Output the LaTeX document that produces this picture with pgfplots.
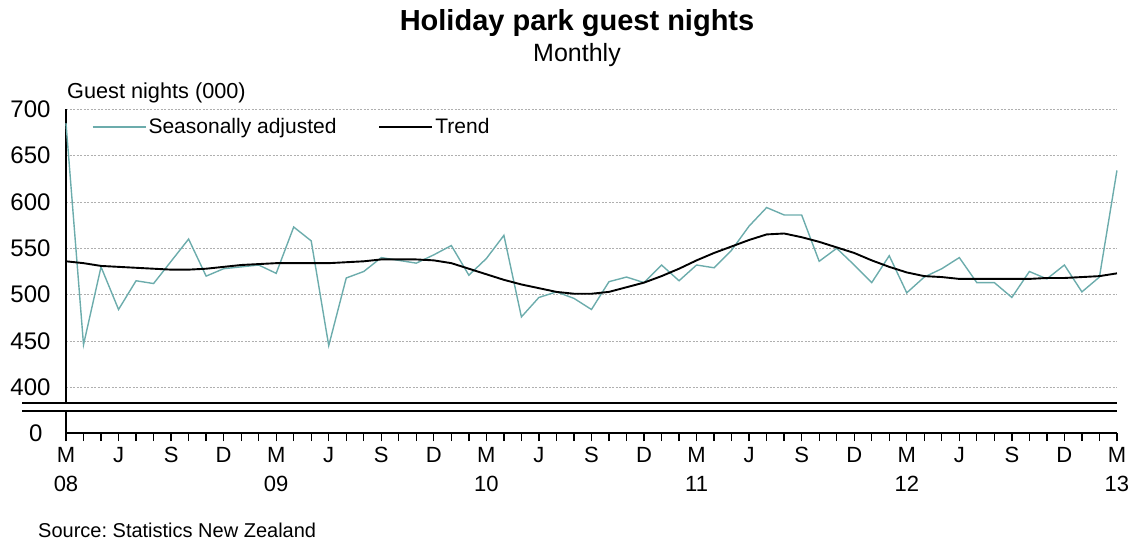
\documentclass[border=0pt]{standalone}
\usepackage{pgfplots}
\pgfplotsset{compat=1.18}
\usepackage{pgfplotstable}
\usepackage{fontspec}
\setmainfont{Liberation Sans}
\frenchspacing
\definecolor{sacol}{RGB}{108,172,172}
\definecolor{gridcol}{RGB}{175,175,175}

\pgfplotstableread{
m sa trend
0 685 536
1 446 534
2 530 531
3 484 530
4 515 529
5 512 528
6 536 527
7 560 527
8 520 528
9 528 530
10 530 532
11 532 533
12 523 534
13 573 534
14 558 534
15 445 534
16 518 535
17 525 536
18 540 538
19 537 538
20 534 538
21 543 537
22 553 534
23 521 528
24 539 522
25 564 516
26 476 511
27 497 507
28 503 503
29 496 501
30 484 501
31 514 503
32 519 508
33 513 513
34 532 520
35 515 528
36 532 537
37 529 545
38 548 552
39 574 559
40 594 565
41 586 566
42 586 562
43 536 557
44 550 551
45 532 545
46 513 537
47 542 530
48 502 524
49 519 520
50 528 519
51 540 517
52 513 517
53 513 517
54 497 517
55 525 517
56 517 518
57 532 518
58 503 519
59 519 520
60 634 523
}\datatable

\begin{document}
\begin{tikzpicture}
\useasboundingbox (0,0) rectangle (1135pt,-544pt);

% title
\node[font=\fontsize{29}{34}\selectfont\bfseries] at (577pt,-23pt) {Holiday park guest nights};
\node[font=\fontsize{25}{30}\selectfont] at (577pt,-55pt) {Monthly};
\node[font=\fontsize{21.7}{25}\selectfont, anchor=west, inner sep=0pt] at (67pt,-93pt) {Guest nights (000)};
\node[font=\fontsize{20}{24}\selectfont, anchor=west, inner sep=0pt] at (38pt,-530pt) {Source: Statistics New Zealand};

% upper axis
\begin{axis}[
  at={(66pt,-403pt)}, anchor=south west,
  scale only axis, width=1051pt, height=293.7pt,
  xmin=0, xmax=60, ymin=383.1, ymax=700,
  axis x line=none,
  axis y line*=left,
  axis line style={line width=1.6pt, black},
  xtick=\empty,
  ytick={400,450,...,700},
  major tick length=0pt,
  ymajorgrids,
  grid style={gridcol, dashed, line width=0.7pt, dash pattern=on 2pt off 1.5pt},
  /pgf/number format/assume math mode=true,
  yticklabel style={font=\fontsize{24}{28}\selectfont, anchor=east, xshift=-12pt},
  clip=false,
  legend style={draw=none, fill=none, at={(0.0247,0.94)}, anchor=west,
    font=\fontsize{21}{25}\selectfont, inner sep=0pt,
    /tikz/every even column/.append style={column sep=40pt}},
  legend columns=2,
  legend image code/.code={\draw[#1] (0pt,0pt) -- (50pt,0pt); \path (0pt,0pt) -- (53pt,0pt);},
]
\addplot[sacol, line width=1.4pt] table[x=m, y=sa] {\datatable};
\addlegendentry{Seasonally adjusted}
\addplot[black, line width=1.9pt] table[x=m, y=trend] {\datatable};
\addlegendentry{Trend}
\end{axis}

% lower axis
\begin{axis}[
  at={(66pt,-433pt)}, anchor=south west,
  scale only axis, width=1051pt, height=22pt,
  xmin=0, xmax=60, ymin=0, ymax=1,
  axis x line*=bottom,
  axis y line*=left,
  axis line style={line width=1.6pt, black},
  ytick={0},
  /pgf/number format/assume math mode=true,
  yticklabel style={font=\fontsize{24}{28}\selectfont, anchor=east, xshift=-12pt},
  y tick style={draw=none},
  xtick={0,3,...,60},
  minor xtick={0,...,60},
  tick align=outside,
  major tick length=8pt, minor tick length=8pt,
  x tick style={black, line width=1.3pt},
  minor x tick style={black, line width=1.3pt},
  xticklabels={M\\08,J,S,D,M\\09,J,S,D,M\\10,J,S,D,M\\11,J,S,D,M\\12,J,S,D,M\\13},
  xticklabel style={font=\fontsize{22}{29}\selectfont, align=center, anchor=north, yshift=-3pt},
]
\addplot[draw=none] coordinates {(0,0)};
\end{axis}

% axis break lines
\draw[line width=2pt] (22pt,-403pt) -- (1117pt,-403pt);
\draw[line width=2pt] (22pt,-411pt) -- (1117pt,-411pt);
\end{tikzpicture}
\end{document}
